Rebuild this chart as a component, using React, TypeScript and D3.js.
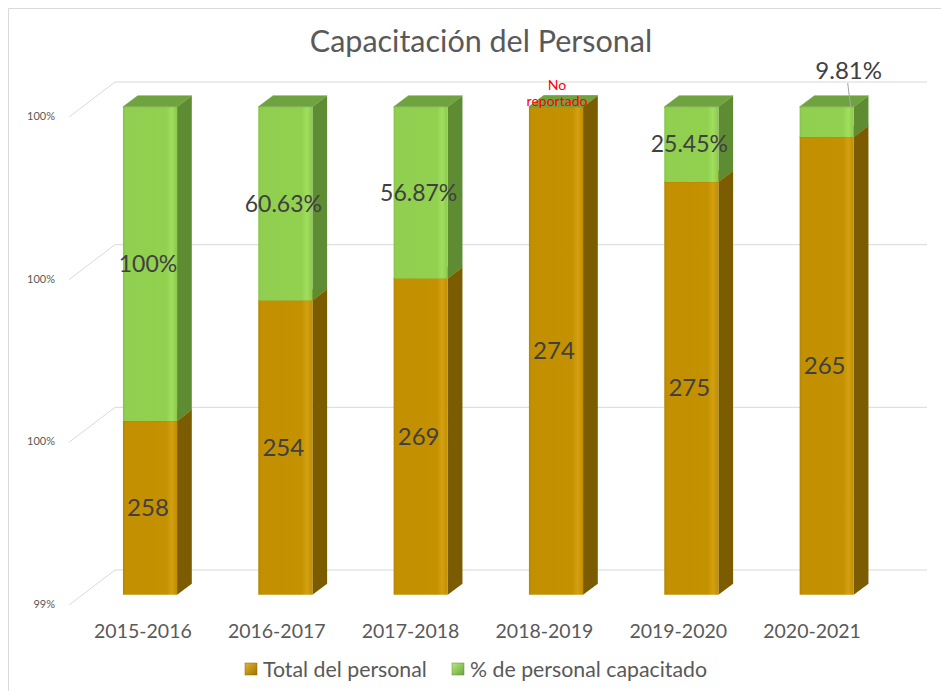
import React from "react";
import * as d3 from "d3";

const categories = ["2015-2016", "2016-2017", "2017-2018", "2018-2019", "2019-2020", "2020-2021"];
const totalPersonal = [258, 254, 269, 274, 275, 265];
const pctCapacitado: (number | null)[] = [1.0, 0.6063, 0.5687, null, 0.2545, 0.0981];
const yTicks = [0.994, 0.996, 0.998, 1.0];
const seriesNames = ["Total del personal", "% de personal capacitado"];

const W = 941;
const H = 691;
const DX = 46;
const DY = 35;
const Z0 = 0.29;
const Z1 = 0.61;
const FONT = "Lato, 'Open Sans', sans-serif";

export default function App() {
  const x = d3.scaleBand<string>().domain(categories).range([69, 881]).paddingInner(0.6).paddingOuter(0.3);
  const xl = d3.scaleBand<string>().domain(categories).range([76, 879]);
  const y = d3.scaleLinear().domain([0.994, 1.0]).range([605, 117]).clamp(true);
  const pFmt = d3.format(".0%");
  const lFmt = d3.format(".4~p");

  const P = (px: number, v: number, z: number): [number, number] => [px + z * DX, y(v) - z * DY];
  const poly = (pts: [number, number][]) => pts.map((p) => p.join(",")).join(" ");

  const rows = categories.map((c, i) => ({ c, total: totalPersonal[i], pct: pctCapacitado[i] ?? 0 }));
  const stack = d3.stack<any>().keys(["total", "pct"]).offset(d3.stackOffsetExpand);
  const series = stack(rows as any);

  const colors = [
    { front: "url(#gOrange)", side: "#7B5C00", top: "#A88000" },
    { front: "url(#gGreen)", side: "#5E8C33", top: "#6FA33F" },
  ];

  const x0 = 69, x1 = 881;

  return (
    <svg width={W} height={H} style={{ position: "absolute", left: 0, top: 0, background: "#fff" }} fontFamily={FONT}>
      <defs>
        <linearGradient id="gOrange" x1="0" x2="1" y1="0" y2="0">
          <stop offset="0" stopColor="#B58600" />
          <stop offset="0.05" stopColor="#C29000" />
          <stop offset="0.8" stopColor="#C49100" />
          <stop offset="0.9" stopColor="#D4A012" />
          <stop offset="1" stopColor="#C08E00" />
        </linearGradient>
        <linearGradient id="gGreen" x1="0" x2="1" y1="0" y2="0">
          <stop offset="0" stopColor="#86C548" />
          <stop offset="0.05" stopColor="#90CF4F" />
          <stop offset="0.8" stopColor="#92D050" />
          <stop offset="0.9" stopColor="#A0DE5E" />
          <stop offset="1" stopColor="#8CC94C" />
        </linearGradient>
        <linearGradient id="lgO" x1="0" x2="1" y1="0" y2="1">
          <stop offset="0" stopColor="#E6B32A" />
          <stop offset="1" stopColor="#9C7400" />
        </linearGradient>
        <linearGradient id="lgG" x1="0" x2="1" y1="0" y2="1">
          <stop offset="0" stopColor="#B4EA7A" />
          <stop offset="1" stopColor="#6FA33F" />
        </linearGradient>
      </defs>

      {/* chart border */}
      <line x1={8.5} y1={8.5} x2={W} y2={8.5} stroke="#d9d9d9" />
      <line x1={8.5} y1={8.5} x2={8.5} y2={H} stroke="#d9d9d9" />

      {/* title */}
      <text x={481} y={52} textAnchor="middle" fontSize={30.5} fill="#595959">Capacitación del Personal</text>

      {/* gridlines */}
      {yTicks.map((t) => {
        const a = P(x0, t, 0);
        const b = P(x0, t, 1);
        const e = P(x1, t, 1);
        return (
          <g key={t}>
            <polyline points={poly([a, b, e])} fill="none" stroke="#d9d9d9" strokeWidth={1} />
            <text x={55} y={a[1] + 3} textAnchor="end" fontSize={11} fill="#595959">{pFmt(t)}</text>
          </g>
        );
      })}

      {/* bars */}
      {categories.map((c, i) => {
        const bx = x(c)!;
        const bw = x.bandwidth();
        const isNull = pctCapacitado[i] === null;
        return (
          <g key={c}>
            {series.map((s, si) => {
              const v0 = Math.max(s[i][0], 0.994);
              const v1 = Math.max(s[i][1], 0.994);
              const col = colors[si];
              const fl0 = P(bx, v0, Z0), fr0 = P(bx + bw, v0, Z0);
              const fl1 = P(bx, v1, Z0), fr1 = P(bx + bw, v1, Z0);
              const br0 = P(bx + bw, v0, Z1), br1 = P(bx + bw, v1, Z1), bl1 = P(bx, v1, Z1);
              const h = v1 - v0;
              return (
                <g key={si}>
                  {h > 0 && <polygon points={poly([fr0, br0, br1, fr1])} fill={col.side} />}
                  {h > 0 && <polygon points={poly([fl0, fr0, fr1, fl1])} fill={col.front} />}
                  {(h > 0 || (si === 1 && isNull)) && (
                    <polygon points={poly([fl1, fr1, br1, bl1])} fill={col.top} stroke={col.top} strokeWidth={0.5} strokeLinejoin="round" />
                  )}
                </g>
              );
            })}
          </g>
        );
      })}

      {/* data labels */}
      {categories.map((c, i) => {
        const bx = x(c)!;
        const bw = x.bandwidth();
        const s0 = series[0][i];
        const s1 = series[1][i];
        const cx = bx + bw / 2 + Z0 * DX - 2;
        const mid = (a: number, b: number) => (y(Math.max(a, 0.994)) + y(Math.max(b, 0.994))) / 2 - Z0 * DY;
        const pct = pctCapacitado[i];
        const g1h = y(Math.max(s1[0], 0.994)) - y(s1[1]);
        return (
          <g key={c} fill="#404040" fontSize={24} textAnchor="middle">
            <text x={cx} y={mid(s0[0], s0[1]) + 8}>{totalPersonal[i]}</text>
            {pct === null ? (
              <g fill="#FF0000" fontSize={14}>
                <text x={cx + 3} y={90}>No</text>
                <text x={cx + 3} y={106}>reportado</text>
              </g>
            ) : g1h > 40 ? (
              <text x={cx} y={mid(s1[0], s1[1]) + 8} fontSize={23}>{lFmt(pct)}</text>
            ) : (
              <g>
                <line x1={cx + 23} y1={83} x2={cx + 26} y2={107} stroke="#a6a6a6" />
                <text x={cx + 24} y={79}>{lFmt(pct)}</text>
              </g>
            )}
          </g>
        );
      })}

      {/* category labels */}
      {categories.map((c) => (
        <text key={c} x={xl(c)! + xl.bandwidth() / 2} y={638} textAnchor="middle" fontSize={19.5} fill="#595959">{c}</text>
      ))}

      {/* legend */}
      <g fontSize={21.3} fill="#595959">
        <rect x={245} y={663} width={12} height={12} fill="url(#lgO)" stroke="#8a6700" strokeWidth={0.5} />
        <text x={263} y={677}>{seriesNames[0]}</text>
        <rect x={452} y={663} width={12} height={12} fill="url(#lgG)" stroke="#5E8C33" strokeWidth={0.5} />
        <text x={470} y={677}>{seriesNames[1]}</text>
      </g>
    </svg>
  );
}
